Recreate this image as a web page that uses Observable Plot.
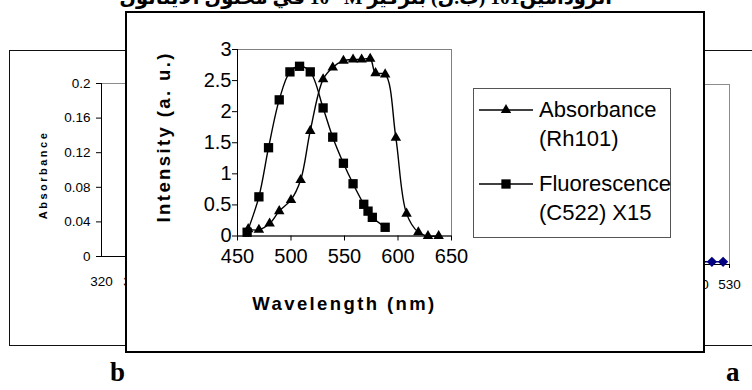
<!DOCTYPE html>
<html><head><meta charset="utf-8">
<script src="https://cdn.jsdelivr.net/npm/d3@7"></script>
<script src="https://cdn.jsdelivr.net/npm/@observablehq/plot@0.6"></script>
<style>
body{margin:0;background:#fff;}
#wrap{position:relative;width:752px;height:390px;overflow:hidden;background:#fff;font-family:"Liberation Sans",Arial,sans-serif;color:#000;}
sup{line-height:0;font-size:0.6em;vertical-align:0.6em;}
</style></head><body><div id="wrap"></div>
<script>
// ---- main chart data ----
const absWl  = [460,470,480,489,500,509,518,530,539,549,558,566,574,579,588,598,608,619,628,638];
const absVal = [0.11,0.10,0.20,0.40,0.58,0.90,1.69,2.52,2.71,2.82,2.84,2.84,2.85,2.62,2.60,1.58,0.36,0.06,0.0,0.0];
const fluWl  = [459,470,479,489,499,508,518,530,539,549,558,568,572,576,588];
const fluVal = [0.06,0.63,1.42,2.19,2.64,2.73,2.64,2.06,1.59,1.17,0.84,0.51,0.40,0.30,0.14];
const xTicks = [450,500,550,600,650];
const yTicks = [0,0.5,1,1.5,2,2.5,3];
const xTitle = "Wavelength (nm)";
const yTitle = "Intensity (a. u.)";
const legendLines = [["Absorbance","(Rh101)"],["Fluorescence","(C522) X15"]];
// ---- background panel b (left, mostly covered) ----
const bXTicks = [320,330];
const bYTicks = [0,0.04,0.08,0.12,0.16,0.2];
const bYTitle = "Absorbance";
// ---- background panel a (right, mostly covered) ----
const aXTicks = [520,530];
const aWl  = [521,524.5,528];
const aVal = [0.003,0.003,0.003];
// ---- page texts ----
const titleHtml = 'الرودامين101 (ب.ل) بتركيز <span dir="ltr">10<sup>-4</sup> M</span> في محلول الايثانول';
const panelLabels = ["b","a"];

const W = 752, H = 390;
const wrap = document.getElementById("wrap");
const baseStyle = {background:"transparent", overflow:"visible", fontFamily:"'Liberation Sans', Arial, sans-serif", color:"black", position:"absolute", left:"0px", top:"0px"};

function div(css, html){ const d=document.createElement("div"); d.style.cssText="position:absolute;"+css; if(html!==undefined) d.innerHTML=html; wrap.appendChild(d); return d; }

// title (top clipped)
div("right:140px;top:-13px;white-space:nowrap;direction:rtl;font:bold 19.5px/22px 'Liberation Serif','DejaVu Sans',serif;", titleHtml);

// thin outer rectangle
div("left:9px;top:50px;width:760px;height:296px;border:1px solid #111;box-sizing:border-box;");

// panel b
const panelB = Plot.plot({
  width:W, height:H, marginLeft:101, marginRight:57, marginTop:83, marginBottom:134,
  style: baseStyle,
  x:{domain:[320,500]}, y:{domain:[0,0.2]},
  marks:[
    Plot.frame({stroke:"#8c8c8c"}),
    Plot.axisY({ticks:bYTicks, tickSize:5, tickPadding:6, fontSize:13.5, label:null, tickFormat:d=>String(d)}),
    Plot.axisX({ticks:bXTicks, tickSize:0, tickPadding:20, fontSize:13.5, label:null, tickFormat:d=>String(d)}),
    Plot.ruleX([320],{stroke:"black"}), Plot.ruleY([0],{stroke:"black"}),
    Plot.text([bYTitle], {text:d=>d, frameAnchor:"left", textAnchor:"middle", dx:-58, dy:5, rotate:-90, fontSize:11, fontWeight:"bold"})
  ]
});
wrap.appendChild(panelB);

// panel a
const aData = aWl.map((w,i)=>({w, v:aVal[i]}));
const panelA = Plot.plot({
  width:W, height:H, marginLeft:441, marginRight:23, marginTop:84, marginBottom:126,
  style: baseStyle,
  x:{domain:[440,530], axis:null}, y:{domain:[0,0.2], axis:null},
  marks:[
    Plot.frame({stroke:"#8c8c8c"}),
    Plot.axisX({ticks:aXTicks, tickSize:4, tickPadding:11, fontSize:13.5, label:null, tickFormat:d=>String(d)}),
    Plot.ruleY([0],{stroke:"black"}),
    Plot.line(aData, {x:"w", y:"v", stroke:"#000080", strokeWidth:1.5}),
    Plot.dot(aData, {x:"w", y:"v", symbol:"diamond2", r:4.6, fill:"#000080"})
  ]
});
wrap.appendChild(panelA);

// thick white box
div("left:125px;top:11px;width:580px;height:342px;border:2.5px solid #000;box-sizing:border-box;background:#fff;");

// main chart
const absData = absWl.map((w,i)=>({w, v:absVal[i]}));
const fluData = fluWl.map((w,i)=>({w, v:fluVal[i]}));
const main = Plot.plot({
  width:W, height:H, marginLeft:237, marginRight:301, marginTop:49, marginBottom:154.5,
  style: baseStyle,
  x:{domain:[450,650]}, y:{domain:[0,3]},
  marks:[
    Plot.frame({stroke:"#808080"}),
    Plot.ruleX([450],{stroke:"black"}), Plot.ruleY([0],{stroke:"black"}),
    Plot.axisY({ticks:yTicks, tickSize:5, tickPadding:1, fontSize:20, label:null, tickFormat:d=>String(d)}),
    Plot.axisX({ticks:xTicks, tickSize:5, tickPadding:8, fontSize:20, label:null, tickFormat:d=>String(d)}),
    Plot.line(absData, {x:"w", y:"v", curve:"catmull-rom", stroke:"black", strokeWidth:1.4}),
    Plot.line(fluData, {x:"w", y:"v", curve:"catmull-rom", stroke:"black", strokeWidth:1.4}),
    Plot.dot(absData, {x:"w", y:"v", symbol:"triangle", r:3.9, fill:"black"}),
    Plot.dot(fluData, {x:"w", y:"v", symbol:"square", r:5.25, fill:"black"}),
    Plot.text([yTitle], {text:d=>d, frameAnchor:"left", textAnchor:"middle", dx:-73, dy:-6, rotate:-90, fontSize:18.5, fontWeight:"bold"}),
    Plot.text([xTitle], {text:d=>d, frameAnchor:"bottom", textAnchor:"middle", dy:68, fontSize:18.5, fontWeight:"bold", lineAnchor:"middle"})
  ]
});
wrap.appendChild(main);
d3.select(main).selectAll("text").filter(function(){return this.textContent===xTitle||this.textContent===yTitle;}).style("letter-spacing","2.4px");
d3.select(panelB).selectAll("text").filter(function(){return this.textContent===bYTitle;}).style("letter-spacing","2.5px");

// legend
div("left:473px;top:88px;width:198px;height:150px;border:1px solid #555;box-sizing:border-box;");
const legSvg = d3.create("svg").attr("width",W).attr("height",H).style("position","absolute").style("left","0").style("top","0");
const legSyms = [[d3.symbolTriangle,46.8,110],[d3.symbolSquare,86.5,184]];
legSyms.forEach(([s,size,y])=>{
  legSvg.append("line").attr("x1",479).attr("x2",533).attr("y1",y).attr("y2",y).attr("stroke","black").attr("stroke-width",1.4);
  legSvg.append("path").attr("d",d3.symbol(s,size)()).attr("transform",`translate(506,${y})`).attr("fill","black");
});
wrap.appendChild(legSvg.node());
const legTops = [[109,138],[183,212]];
legendLines.forEach((lines,i)=>lines.forEach((t,j)=>{
  div(`left:539px;top:${legTops[i][j]-14.2}px;font:22px/29px 'Liberation Sans',Arial,sans-serif;white-space:nowrap;`, t);
}));

// panel letters
div("left:110px;top:357px;font:bold 27px/30px 'Liberation Serif',serif;", panelLabels[0]);
div("left:726px;top:357px;font:bold 27px/30px 'Liberation Serif',serif;", panelLabels[1]);
</script></body></html>
